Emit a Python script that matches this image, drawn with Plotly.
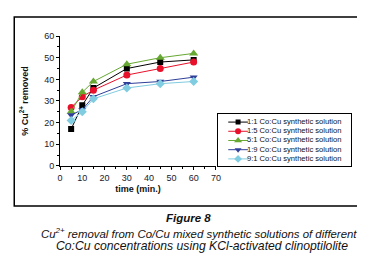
import plotly.graph_objects as go

time_min = [5, 10, 15, 30, 45, 60]
names = ["1:1 Co:Cu synthetic solution", "1:5 Co:Cu synthetic solution",
         "5:1 Co:Cu synthetic solution", "1:9 Co:Cu synthetic solution",
         "9:1 Co:Cu synthetic solution"]
s_1_1 = [17, 28, 36, 45, 48, 49]
s_1_5 = [27, 32, 35, 42, 45, 48]
s_5_1 = [25, 34, 39, 47, 50, 52]
s_1_9 = [23.5, 26, 32, 38, 39, 41]
s_9_1 = [21, 25, 31, 36, 38, 39]
series = [s_1_1, s_1_5, s_5_1, s_1_9, s_9_1]
x_ticks = [0, 10, 20, 30, 40, 50, 60, 70]
y_ticks = [0, 10, 20, 30, 40, 50, 60]

colors = ["#000000", "#e8102a", "#66a832", "#2f3f99", "#80cce0"]
symbols = ["square", "circle", "triangle-up", "triangle-down", "diamond"]
sizes = [6, 7, 8, 7, 7]

font = "Liberation Sans, Arial, sans-serif"
fig = go.Figure()
for i, (nm, ys) in enumerate(zip(names, series)):
    fig.add_trace(go.Scatter(
        x=time_min, y=ys, mode="lines+markers", name=nm,
        line=dict(color=colors[i], width=1),
        marker=dict(symbol=symbols[i], size=sizes[i], color=colors[i]),
        showlegend=False, xaxis="x", yaxis="y"))

# legend drawn on an auxiliary axis (sample line, marker, label)
for i, nm in enumerate(names):
    fig.add_trace(go.Scatter(
        x=[10, 30], y=[i, i], mode="lines",
        line=dict(color=colors[i], width=1),
        showlegend=False, xaxis="x2", yaxis="y2", hoverinfo="skip"))
    fig.add_trace(go.Scatter(
        x=[20], y=[i], mode="markers",
        marker=dict(symbol=symbols[i], size=sizes[i] - 1, color=colors[i]),
        showlegend=False, xaxis="x2", yaxis="y2", hoverinfo="skip"))
    fig.add_trace(go.Scatter(
        x=[29], y=[i], mode="text", text=[nm], textposition="middle right",
        textfont=dict(family=font, size=7.6, color="#111"),
        showlegend=False, xaxis="x2", yaxis="y2", hoverinfo="skip", cliponaxis=False))

W, H = 365, 260
ml, mr, mt, mb = 52, 4, 5, 62
pw, ph = W - ml - mr, H - mt - mb

def px(xp):
    return (xp - ml) / pw

def py(yp):
    return (H - mb - yp) / ph

axis_common = dict(showline=True, linecolor="black", linewidth=1, ticks="outside",
                   ticklen=3, tickwidth=1, tickcolor="black", showgrid=False, zeroline=False,
                   tickfont=dict(family=font, size=9, color="#1a1a2a"))

fig.update_layout(
    width=W, height=H, margin=dict(l=ml, r=mr, t=mt, b=mb),
    paper_bgcolor="white", plot_bgcolor="white", showlegend=False,
    xaxis=dict(domain=[0, px(210.5)], range=[0, 70], tickvals=x_ticks,
               minor=dict(dtick=5, ticks="outside", ticklen=2, tickcolor="black"),
               title=dict(text="<b>time (min.)</b>", font=dict(family=font, size=9, color="#111"), standoff=4),
               anchor="y", **axis_common),
    yaxis=dict(domain=[py(157), py(24.5)], range=[0, 60], tickvals=y_ticks,
               minor=dict(dtick=5, ticks="outside", ticklen=2, tickcolor="black"),
               title=dict(text="<b>% Cu<sup>2+</sup> removed</b>", font=dict(family=font, size=9, color="#111"), standoff=14),
               anchor="x", **axis_common),
    xaxis2=dict(domain=[px(213), px(348)], range=[0, 135], showline=True, mirror=True,
                linecolor="black", linewidth=1, showticklabels=False, ticks="",
                showgrid=False, zeroline=False, anchor="y2"),
    yaxis2=dict(domain=[py(157), py(104)], range=[4.755, -0.883], showline=True, mirror=True,
                linecolor="black", linewidth=1, showticklabels=False, ticks="",
                showgrid=False, zeroline=False, anchor="x2"),
)

# outer frame
fig.add_shape(type="rect", xref="paper", yref="paper", x0=px(5.5), x1=px(360.5),
              y0=py(198), y1=py(5), line=dict(color="black", width=1.5))

fig.add_annotation(text="<b><i>Figure 8</i></b>", xref="paper", yref="paper",
                   x=px(183), y=py(218), showarrow=False,
                   font=dict(family=font, size=11.5, color="#111"))
fig.add_annotation(text="<i>Cu<sup>2+</sup> removal from Co/Cu mixed synthetic solutions of different</i>",
                   xref="paper", yref="paper", x=px(193), y=py(234.5), showarrow=False,
                   font=dict(family=font, size=11.4, color="#111"))
fig.add_annotation(text="<i>Co:Cu concentrations using KCl-activated clinoptilolite</i>",
                   xref="paper", yref="paper", x=px(196.5), y=py(248), showarrow=False,
                   font=dict(family=font, size=12.2, color="#111"))

fig.write_html("out.html")
